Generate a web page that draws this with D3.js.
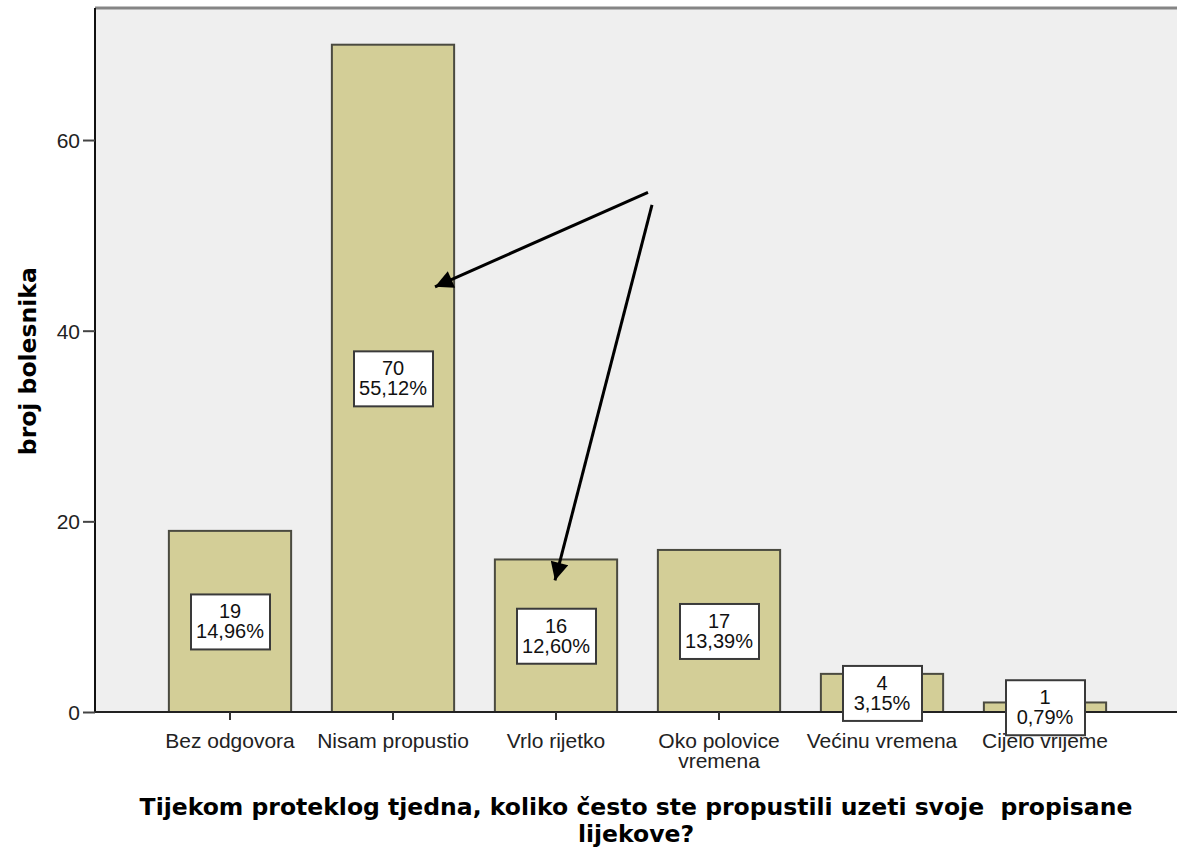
<!DOCTYPE html>
<html>
<head>
<meta charset="utf-8">
<script src="https://cdn.jsdelivr.net/npm/d3@7"></script>
<style>
  body { margin: 0; background: #fff; }
  svg { display: block; font-family: "Liberation Sans", Arial, sans-serif; }
  .tick text { font-size: 21px; fill: #222; }
  .title { font-family: "DejaVu Sans", Verdana, sans-serif; font-weight: bold; fill: #000; }
</style>
</head>
<body>
<svg id="canvas1" width="1177" height="849"></svg>
<script>
// Data
var categories = ["Bez odgovora", "Nisam propustio", "Vrlo rijetko", "Oko polovice\nvremena", "Većinu vremena", "Cijelo vrijeme"];
var counts = [19, 70, 16, 17, 4, 1];
var percents = ["14,96%", "55,12%", "12,60%", "13,39%", "3,15%", "0,79%"];
var yTicks = [0, 20, 40, 60];

var svg1 = d3.select("#canvas1");

var margin = {top: 8, right: 0, bottom: 137, left: 95},
    width = 1177 - margin.left - margin.right,
    height = 849 - margin.top - margin.bottom;

var x = d3.scaleBand()
    .domain(categories)
    .range([148.5 - margin.left, 1126.5 - margin.left])
    .paddingInner(0.25)
    .paddingOuter(0.125);

var y = d3.scaleLinear().domain([0, 73.85]).range([height, 0]);

var g = svg1.append("g")
    .attr("transform", "translate(" + margin.left + "," + margin.top + ")");

// plot background
g.append("rect")
    .attr("width", width)
    .attr("height", height)
    .attr("fill", "#efefef");

g.append("line")
    .attr("x1", 0).attr("x2", width)
    .attr("y1", 0).attr("y2", 0)
    .attr("stroke", "#858585")
    .attr("stroke-width", 3);

// bars
g.selectAll(".bar")
    .data(counts)
    .enter().append("rect")
    .attr("class", "bar")
    .attr("x", function(d, i) { return x(categories[i]); })
    .attr("y", function(d) { return y(d); })
    .attr("width", x.bandwidth())
    .attr("height", function(d) { return y(0) - y(d); })
    .attr("fill", "#d3ce97")
    .attr("stroke", "#4a4a40")
    .attr("stroke-width", 2);

// Y axis
var yAxis = d3.axisLeft(y).tickValues(yTicks).tickSize(12).tickPadding(3);
var ya = g.append("g").attr("class", "y axis").call(yAxis);
ya.select(".domain").attr("stroke", "#111").attr("stroke-width", 2).attr("d", "M0," + height + "V0");
ya.selectAll(".tick line").attr("stroke", "#444").attr("stroke-width", 2);
ya.selectAll(".tick text").attr("dy", "0.35em");

// X axis
var xAxis = d3.axisBottom(x).tickSize(8).tickPadding(8).tickFormat("");
var xa = g.append("g")
    .attr("class", "x axis")
    .attr("transform", "translate(0," + height + ")")
    .call(xAxis);
xa.select(".domain").attr("stroke", "#222").attr("stroke-width", 2).attr("d", "M0,0H" + width);
xa.selectAll(".tick line").attr("stroke", "#333").attr("stroke-width", 2);
xa.selectAll(".tick").each(function(d) {
    var t = d3.select(this).append("text")
        .attr("fill", "#222")
        .attr("text-anchor", "middle")
        .attr("y", 36);
    d.split("\n").forEach(function(line, k) {
        t.append("tspan").attr("x", 0).attr("dy", k ? 20 : 0).text(line);
    });
});

// value labels
var lab = g.selectAll(".lab")
    .data(counts)
    .enter().append("g")
    .attr("class", "lab")
    .attr("transform", function(d, i) {
        return "translate(" + (x(categories[i]) + x.bandwidth() / 2) + "," + y(d / 2) + ")";
    });
lab.append("rect")
    .attr("x", -39).attr("y", -27)
    .attr("width", 79).attr("height", 55)
    .attr("fill", "#fff")
    .attr("stroke", "#3a3a3a")
    .attr("stroke-width", 2);
lab.append("text")
    .attr("text-anchor", "middle")
    .attr("font-size", 20)
    .attr("fill", "#111")
    .attr("y", -3)
    .text(function(d) { return d; });
lab.append("text")
    .attr("text-anchor", "middle")
    .attr("font-size", 20)
    .attr("fill", "#111")
    .attr("y", 17)
    .text(function(d, i) { return percents[i]; });

// arrows (annotation)
svg1.append("defs").append("marker")
    .attr("id", "head")
    .attr("viewBox", "0 0 10 10")
    .attr("refX", 10).attr("refY", 5)
    .attr("markerWidth", 7).attr("markerHeight", 6)
    .attr("markerUnits", "strokeWidth")
    .attr("orient", "auto")
    .append("path").attr("d", "M0,0L10,5L0,10z").attr("fill", "#000");

var arrows = [
    {x1: 553, y1: 54.5, x2: 340, y2: 44.6},
    {x1: 557, y1: 53.2, x2: 460, y2: 13.8}
];
g.selectAll(".arrow")
    .data(arrows)
    .enter().append("line")
    .attr("x1", function(d) { return d.x1; })
    .attr("y1", function(d) { return y(d.y1); })
    .attr("x2", function(d) { return d.x2; })
    .attr("y2", function(d) { return y(d.y2); })
    .attr("stroke", "#000")
    .attr("stroke-width", 3)
    .attr("marker-end", "url(#head)");

// axis titles
svg1.append("text")
    .attr("class", "title")
    .attr("transform", "translate(36," + (margin.top + y(36.8)) + ") rotate(-90)")
    .attr("text-anchor", "middle")
    .attr("font-size", 23.5)
    .text("broj bolesnika");

var xt = svg1.append("text")
    .attr("class", "title")
    .attr("text-anchor", "middle")
    .attr("font-size", 23.5)
    .attr("y", 815);
xt.append("tspan").attr("x", 636).text("Tijekom proteklog tjedna, koliko često ste propustili uzeti svoje\u00a0 propisane");
xt.append("tspan").attr("x", 636).attr("dy", 27).text("lijekove?");
</script>
</body>
</html>
